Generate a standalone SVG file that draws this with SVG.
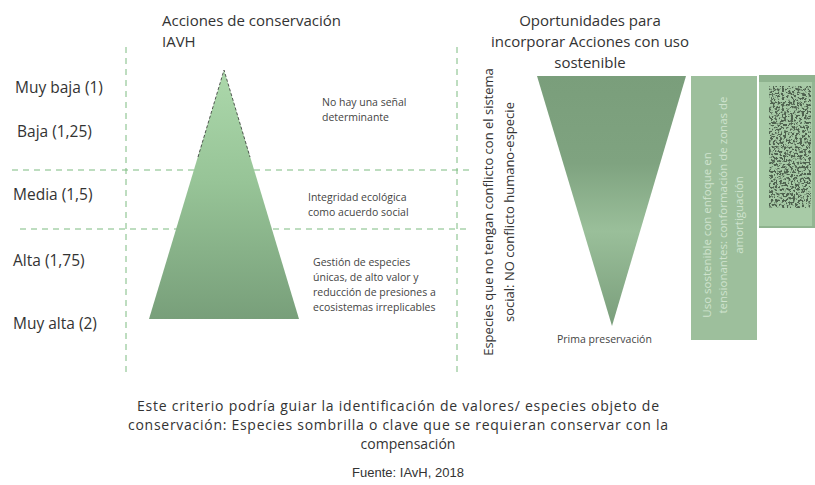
<svg xmlns="http://www.w3.org/2000/svg" width="815" height="485" viewBox="0 0 815 485">
<defs>
<linearGradient id="gL" x1="0" y1="0" x2="0" y2="1">
<stop offset="0" stop-color="#acd8ab"/>
<stop offset="0.45" stop-color="#97c497"/>
<stop offset="1" stop-color="#789f7a"/>
</linearGradient>
<linearGradient id="gR" x1="0" y1="0" x2="0" y2="1">
<stop offset="0" stop-color="#7a9e7b"/>
<stop offset="0.35" stop-color="#7fa380"/>
<stop offset="0.62" stop-color="#9abf9a"/>
<stop offset="1" stop-color="#7a9e7b"/>
</linearGradient>
<filter id="noise" x="0" y="0" width="100%" height="100%">
<feTurbulence type="fractalNoise" baseFrequency="0.45" numOctaves="2" seed="5" result="t"/>
<feColorMatrix in="t" type="matrix" values="0 0 0 0 0.08  0 0 0 0 0.12  0 0 0 0 0.08  -9 0 0 0 4.7" result="d"/>
<feFlood flood-color="#a6c9a5" result="bg"/>
<feMerge><feMergeNode in="bg"/><feMergeNode in="d"/></feMerge>
</filter>
<style>
.t{font-family:"Open Sans","Liberation Sans",sans-serif;fill:#333;}
.lab{font-size:15.5px;}
.small{font-size:10.5px;fill:#444;}
.grid{stroke:#7dbb80;stroke-width:1;stroke-dasharray:6 5;fill:none;}
</style>
</defs>

<g id="grid" class="grid">
<line x1="126" y1="47" x2="126" y2="372"/>
<line x1="457" y1="47" x2="457" y2="372"/>
<line x1="12" y1="170" x2="470" y2="170"/>
<line x1="20" y1="229" x2="470" y2="229"/>
</g>

<g id="left-title">
<text class="t" x="162" y="26" font-size="15">Acciones de conservación</text>
<text class="t" x="162" y="47" font-size="15">IAVH</text>
</g>

<g id="levels" class="t lab">
<text x="15" y="93">Muy baja (1)</text>
<text x="17" y="137">Baja (1,25)</text>
<text x="13" y="200">Media (1,5)</text>
<text x="13" y="266">Alta (1,75)</text>
<text x="13" y="329">Muy alta (2)</text>
</g>

<g id="pyramid">
<polygon points="224,70 299,319 149,319" fill="url(#gL)"/>
<polyline points="198,157 224,70 250,157" fill="none" stroke="#333" stroke-width="0.8" stroke-dasharray="3 2"/>
</g>

<g id="left-notes" class="t small">
<text x="322" y="106">No hay una señal</text>
<text x="322" y="121">determinante</text>
<text x="308" y="201">Integridad ecológica</text>
<text x="308" y="216">como acuerdo social</text>
<text x="313" y="266">Gestión de especies</text>
<text x="313" y="281">únicas, de alto valor y</text>
<text x="313" y="296">reducción de presiones a</text>
<text x="313" y="311">ecosistemas irreplicables</text>
</g>

<g id="right-title" class="t" font-size="15" text-anchor="middle">
<text x="590" y="26">Oportunidades para</text>
<text x="590" y="47">incorporar Acciones con uso</text>
<text x="590" y="68">sostenible</text>
</g>

<g id="side-label" class="t" font-size="13" text-anchor="middle">
<text transform="translate(493,212) rotate(-90)">Especies que no tengan conflicto con el sistema</text>
<text transform="translate(514,212) rotate(-90)">social: NO conflicto humano-especie</text>
</g>

<g id="inverted-pyramid">
<polygon points="537,76 686,76 612,326" fill="url(#gR)"/>
<text class="t small" x="557" y="343" font-size="11">Prima preservación</text>
</g>

<g id="uso-box">
<rect x="691" y="76" width="66" height="264" fill="#9dbf9c"/>
<g class="t" font-size="11.5" text-anchor="middle" style="fill:#cfe3ce">
<text transform="translate(711,235) rotate(-90)">Uso sostenible con enfoque en</text>
<text transform="translate(727,205) rotate(-90)">tensionantes: conformación de zonas de</text>
<text transform="translate(743,215) rotate(-90)">amortiguación</text>
</g>
</g>

<g id="image-box">
<rect x="759" y="75" width="56" height="153" fill="#a8cba7"/>
<rect x="759" y="75" width="56" height="7" fill="#8fb38f"/>
<rect x="759" y="226" width="56" height="2" fill="#8fb38f"/>
<rect x="812" y="82" width="3" height="144" fill="#93b693"/>
<rect x="769" y="86" width="42" height="122" filter="url(#noise)"/>
</g>

<g id="bottom-text" class="t" font-size="14" text-anchor="middle">
<text x="398" y="411" textLength="522" lengthAdjust="spacing">Este criterio podría guiar la identificación de valores/ especies objeto de</text>
<text x="398" y="430" textLength="540" lengthAdjust="spacing">conservación: Especies sombrilla o clave que se requieran conservar con la</text>
<text x="408" y="449">compensación</text>
</g>

<text x="408" y="477" text-anchor="middle" font-family="Liberation Sans Narrow, Liberation Sans, sans-serif" font-size="13" fill="#333">Fuente: IAvH, 2018</text>
</svg>
